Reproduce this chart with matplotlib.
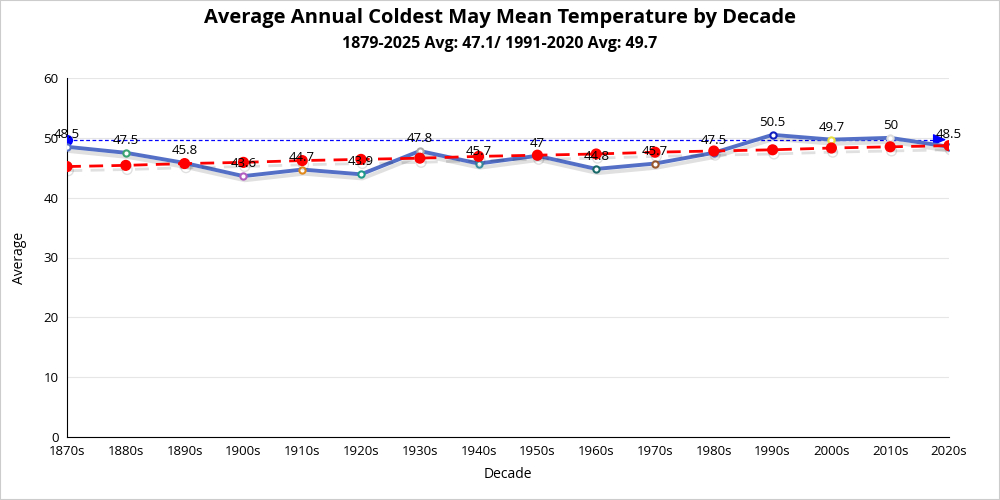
import matplotlib
matplotlib.use("Agg")
import matplotlib.pyplot as plt
import matplotlib.patheffects as pe
import numpy as np

plt.rcParams['font.family'] = ['Open Sans', 'DejaVu Sans']

decades = ["1870s", "1880s", "1890s", "1900s", "1910s", "1920s", "1930s", "1940s",
           "1950s", "1960s", "1970s", "1980s", "1990s", "2000s", "2010s", "2020s"]
averages = [48.5, 47.5, 45.8, 43.6, 44.7, 43.9, 47.8, 45.7,
            47.0, 44.8, 45.7, 47.5, 50.5, 49.7, 50.0, 48.5]
# trend line values
trend = [45.2, 45.4, 45.7, 45.9, 46.2, 46.4, 46.6, 46.9,
         47.1, 47.3, 47.6, 47.8, 48.0, 48.3, 48.5, 48.7]
normal_avg = 49.7
marker_colors = ["#5470c6", "#3ba272", "#fac858", "#b05fc0", "#e08a1e", "#1f9a8a",
                 "#aaaaaa", "#3a8fa0", "#5470c6", "#1a6a6a", "#9a5a30", "#5470c6",
                 "#1020c0", "#e8e040", "#dddddd", "#5470c6"]

fig = plt.figure(figsize=(10, 5), dpi=100)
ax = fig.add_axes([0.067, 0.126, 0.882, 0.718])
x = np.arange(len(decades))

# 1991-2020 average line with arrow
ax.plot([x[0], x[-1] - 0.25], [normal_avg, normal_avg], color="blue", lw=0.9,
        ls=(0, (3, 2)), zorder=2)
ax.annotate("", xy=(x[-1], normal_avg), xytext=(x[-1] - 0.3, normal_avg),
            arrowprops=dict(arrowstyle="-|>,head_length=0.8,head_width=0.35",
                            color="blue", lw=0.9), zorder=2)
ax.plot([x[0]], [normal_avg], "o", color="blue", ms=7, zorder=5)

shadow = [pe.SimpleLineShadow(offset=(1, -3), shadow_color="black", alpha=0.12),
          pe.Normal()]

# main series
ax.plot(x, averages, color="#5470c6", lw=2.8, path_effects=shadow, zorder=4)
for xi, v, c in zip(x, averages, marker_colors):
    ax.plot(xi, v, "o", ms=4.5, mfc="white", mec=c, mew=1.5, zorder=5)
    ax.text(xi, v + 1.0, f"{v:g}", ha="center", va="bottom", fontsize=9.5, zorder=8)

# trend (drawn over the series, as in the original)
ax.plot(x, trend, color="red", lw=2, ls=(0, (5, 3)), marker="o", ms=7,
        path_effects=shadow, zorder=6)

ax.set_xlim(0, len(decades) - 1)
ax.set_ylim(0, 60)
ax.set_yticks(range(0, 61, 10))
ax.set_xticks(x)
ax.set_xticklabels(decades)
ax.tick_params(length=0, labelsize=9.5, pad=6)
ax.grid(axis="y", color="#e6e6e6", lw=0.8)
ax.set_axisbelow(True)
for s in ["top", "right"]:
    ax.spines[s].set_visible(False)
ax.spines["left"].set_color("black")
ax.spines["bottom"].set_color("black")
ax.set_xlabel("Decade", fontsize=10, labelpad=6)
ax.set_ylabel("Average", fontsize=10, labelpad=12)

fig.text(0.5, 0.965, "Average Annual Coldest May Mean Temperature by Decade",
         ha="center", va="center", fontsize=14.5, fontweight="bold")
fig.text(0.5, 0.912, "1879-2025 Avg: 47.1/ 1991-2020 Avg: 49.7",
         ha="center", va="center", fontsize=11.5, fontweight="bold")

fig.patches.append(plt.Rectangle((0, 0), 1, 1, transform=fig.transFigure,
                                 fill=False, edgecolor="#cccccc", lw=1.5))
fig.savefig("out.png", dpi=100)
